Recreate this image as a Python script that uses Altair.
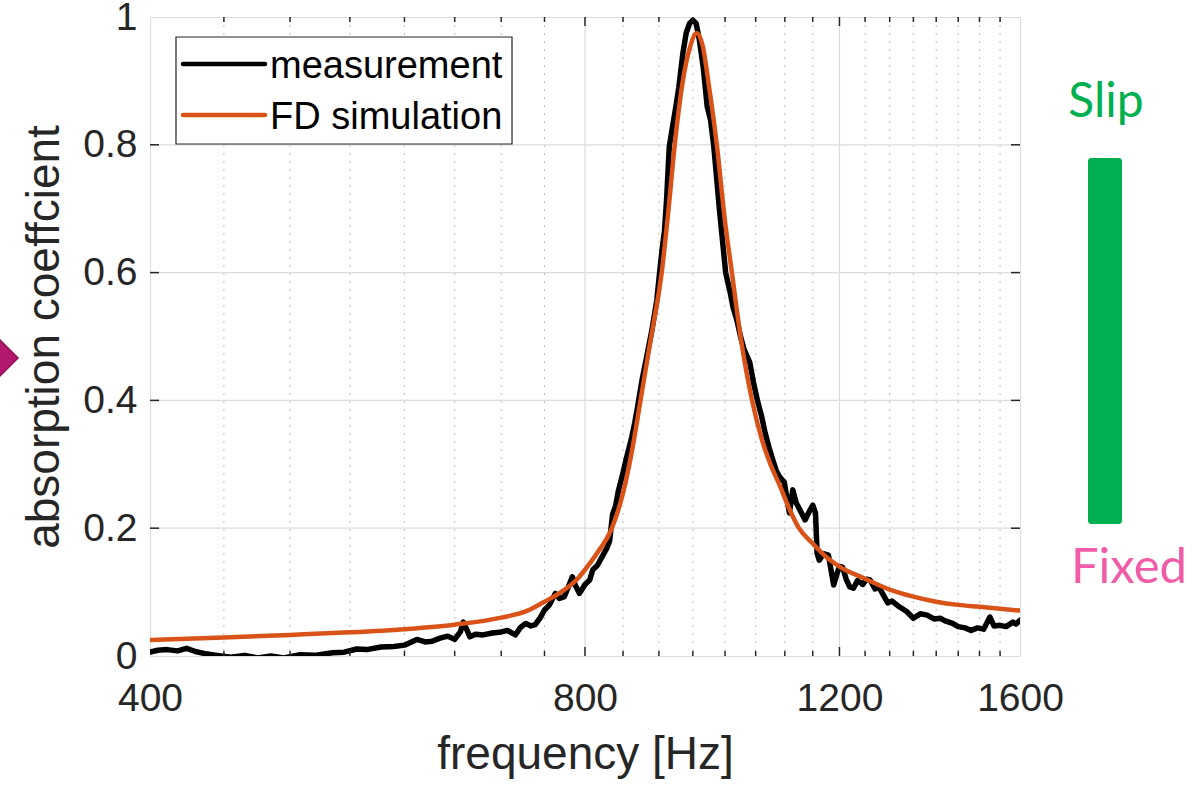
import altair as alt
import pandas as pd

# ---------------- data ----------------
meas_freq = [400, 405, 411, 418, 424, 430, 436, 445, 455, 465, 475, 485, 495, 508, 520, 535, 545,
             556, 565, 578, 590, 600, 612, 620, 627, 635, 643, 650, 656, 659, 663, 666, 672, 680,
             690, 698, 707, 716, 722, 728, 734, 739, 745, 750, 756, 763, 768, 774, 779, 784, 788,
             793, 800, 806, 810, 816, 822, 828, 832, 836, 840, 844, 849, 854, 858, 861, 866, 870,
             874, 877, 883, 890, 897, 901, 905, 908, 911, 915, 920, 925, 929, 935, 940, 945, 950,
             955, 960, 966, 972, 977, 982, 987, 991, 996, 1001, 1008, 1013, 1019, 1025, 1031, 1040,
             1047, 1053, 1060, 1066, 1073, 1079, 1085, 1091, 1099, 1104, 1108, 1114, 1120, 1127,
             1136, 1143, 1150, 1155, 1158, 1162, 1170, 1179, 1185, 1189, 1195, 1200, 1206, 1213,
             1220, 1227, 1235, 1245, 1253, 1260, 1270, 1278, 1285, 1296, 1305, 1320, 1335, 1350,
             1365, 1380, 1395, 1409, 1420, 1437, 1450, 1466, 1480, 1495, 1510, 1525, 1535, 1550,
             1565, 1582, 1590, 1600]
meas_val = [0.006, 0.009, 0.010, 0.008, 0.012, 0.007, 0.004, 0.001, -0.002, 0.001, -0.003, 0.000,
            -0.003, 0.002, 0.001, 0.005, 0.006, 0.011, 0.010, 0.014, 0.015, 0.017, 0.026, 0.022,
            0.023, 0.028, 0.031, 0.026, 0.038, 0.053, 0.040, 0.030, 0.034, 0.033, 0.036, 0.037,
            0.040, 0.033, 0.045, 0.051, 0.047, 0.049, 0.060, 0.072, 0.080, 0.098, 0.090, 0.093,
            0.108, 0.124, 0.110, 0.098, 0.112, 0.119, 0.135, 0.142, 0.155, 0.168, 0.180, 0.222,
            0.235, 0.260, 0.282, 0.307, 0.325, 0.338, 0.365, 0.390, 0.418, 0.437, 0.470, 0.510,
            0.557, 0.600, 0.640, 0.665, 0.713, 0.797, 0.830, 0.862, 0.890, 0.943, 0.975, 0.990,
            0.995, 0.990, 0.964, 0.920, 0.860, 0.840, 0.800, 0.745, 0.700, 0.650, 0.600, 0.570,
            0.545, 0.526, 0.500, 0.479, 0.460, 0.425, 0.400, 0.375, 0.349, 0.325, 0.307, 0.290,
            0.280, 0.272, 0.245, 0.224, 0.260, 0.240, 0.228, 0.213, 0.225, 0.236, 0.224, 0.161,
            0.150, 0.160, 0.158, 0.130, 0.111, 0.128, 0.140, 0.139, 0.120, 0.108, 0.106, 0.118,
            0.112, 0.120, 0.119, 0.105, 0.108, 0.098, 0.083, 0.086, 0.077, 0.070, 0.059, 0.066,
            0.064, 0.058, 0.059, 0.055, 0.051, 0.046, 0.044, 0.040, 0.044, 0.042, 0.061, 0.047,
            0.048, 0.046, 0.053, 0.050, 0.056]

sim_freq = [400, 450, 500, 550, 600, 650, 700, 730, 750, 770, 790, 800, 815, 835, 850, 862, 874,
            889, 904, 914, 923, 935, 945, 956, 965, 975, 987, 1000, 1011, 1025, 1044, 1060, 1075,
            1091, 1108, 1125, 1150, 1175, 1200, 1250, 1300, 1350, 1400, 1450, 1500, 1550, 1600]
sim_val = [0.025, 0.029, 0.033, 0.037, 0.042, 0.049, 0.060, 0.071, 0.085, 0.100, 0.120, 0.135,
           0.160, 0.200, 0.255, 0.320, 0.400, 0.500, 0.600, 0.700, 0.800, 0.900, 0.950, 0.975,
           0.955, 0.890, 0.800, 0.680, 0.600, 0.500, 0.400, 0.340, 0.300, 0.267, 0.230, 0.200,
           0.176, 0.155, 0.140, 0.121, 0.104, 0.093, 0.085, 0.080, 0.077, 0.074, 0.071]

x_major = [400, 800, 1200, 1600]
x_minor = [450, 500, 550, 600, 650, 700, 750, 850, 900, 950, 1000, 1050, 1100, 1150,
           1250, 1300, 1350, 1400, 1450, 1500, 1550]
y_ticks = [0, 0.2, 0.4, 0.6, 0.8, 1]
y_inner = [0.2, 0.4, 0.6, 0.8]

series = ["measurement", "FD simulation"]
series_colors = ["#000000", "#D95319"]
side_labels = ["Slip", "Fixed"]
side_colors = ["#00B050", "#F05CA8"]

# ---------------- layout ----------------
W, H = 870, 639
FONT = "Liberation Sans"
TXT = "#262626"

xs = alt.Scale(type="log", domain=[400, 1600], nice=False)
ys = alt.Scale(domain=[0, 1], nice=False)

AX_X = alt.Axis(
    values=x_major, format="d", title="frequency [Hz]", grid=False, ticks=False, domain=False,
    labelFontSize=39, labelPadding=23, labelFlush=False, labelOverlap=False,
    labelColor=TXT, labelFont=FONT, titleFont=FONT, titleFontSize=46,
    titleFontWeight="normal", titleColor=TXT, titlePadding=14)
AX_Y = alt.Axis(
    values=y_ticks, format="~g", title="absorption coeffcient", grid=False, ticks=False,
    domain=False, labelFontSize=39, labelPadding=13, labelFlush=False, labelOverlap=False,
    labelColor=TXT, labelFont=FONT, titleFont=FONT, titleFontSize=46,
    titleFontWeight="normal", titleColor=TXT, titlePadding=14)

meas_df = pd.DataFrame({"f": meas_freq, "v": meas_val})
sim_df = pd.DataFrame({"f": sim_freq, "v": sim_val})
minor_df = pd.DataFrame({"f": x_minor})
major_inner_df = pd.DataFrame({"f": [800, 1200]})
yin_df = pd.DataFrame({"v": y_inner})
one = pd.DataFrame({"k": [0]})

X = lambda: alt.X("f:Q", scale=xs, axis=AX_X)
Y = lambda: alt.Y("v:Q", scale=ys, axis=AX_Y)

grid_minor = alt.Chart(minor_df).mark_rule(color="#bdbdbd", strokeWidth=1, strokeDash=[2, 6]).encode(
    x=X(), y=alt.value(0), y2=alt.value(H))
grid_xmaj = alt.Chart(major_inner_df).mark_rule(color="#dcdcdc", strokeWidth=1.2).encode(
    x=X(), y=alt.value(0), y2=alt.value(H))
grid_y = alt.Chart(yin_df).mark_rule(color="#dcdcdc", strokeWidth=1.2).encode(
    y=Y(), x=alt.value(0), x2=alt.value(W))

meas_line = alt.Chart(meas_df).mark_line(
    color=series_colors[0], strokeWidth=5.5, clip=True, strokeJoin="round", strokeCap="round"
).encode(x=X(), y=Y())
sim_line = alt.Chart(sim_df).mark_line(
    color=series_colors[1], strokeWidth=4.5, clip=True, strokeJoin="round", strokeCap="round",
    interpolate="monotone"
).encode(x=X(), y=Y())

# inward ticks
tick_layers = []
tick_layers.append(alt.Chart(minor_df).mark_rule(color=TXT, strokeWidth=1.5).encode(
    x=X(), y=alt.value(H), y2=alt.value(H - 5)))
tick_layers.append(alt.Chart(minor_df).mark_rule(color=TXT, strokeWidth=1.5).encode(
    x=X(), y=alt.value(0), y2=alt.value(5)))
tick_layers.append(alt.Chart(major_inner_df).mark_rule(color=TXT, strokeWidth=1.5).encode(
    x=X(), y=alt.value(H), y2=alt.value(H - 9)))
tick_layers.append(alt.Chart(major_inner_df).mark_rule(color=TXT, strokeWidth=1.5).encode(
    x=X(), y=alt.value(0), y2=alt.value(9)))
tick_layers.append(alt.Chart(yin_df).mark_rule(color=TXT, strokeWidth=1.5).encode(
    y=Y(), x=alt.value(0), x2=alt.value(9)))
tick_layers.append(alt.Chart(yin_df).mark_rule(color=TXT, strokeWidth=1.5).encode(
    y=Y(), x=alt.value(W), x2=alt.value(W - 9)))

# legend
legend_layers = [alt.Chart(one).mark_rect(fill="white", stroke=TXT, strokeWidth=1.2).encode(
    x=alt.value(26), x2=alt.value(362), y=alt.value(20), y2=alt.value(127))]
for i, (name, col) in enumerate(zip(series, series_colors)):
    yy = 47 + 51 * i
    d = pd.DataFrame({"series": [name]})
    legend_layers.append(alt.Chart(d).mark_rule(color=col, strokeWidth=4.5, strokeCap="round").encode(
        x=alt.value(33), x2=alt.value(115), y=alt.value(yy)))
    legend_layers.append(alt.Chart(d).mark_text(
        align="left", baseline="alphabetic", font=FONT, fontSize=38, color="#000000"
    ).encode(x=alt.value(120), y=alt.value(yy + 14), text="series:N"))

# outside annotations
side_df = pd.DataFrame({"label": side_labels, "color": side_colors})
slip_txt = alt.Chart(side_df.iloc[[0]]).mark_text(
    align="center", baseline="alphabetic", font="Lato", fontSize=48, color=side_colors[0]
).encode(x=alt.value(956), y=alt.value(100), text="label:N")
fixed_txt = alt.Chart(side_df.iloc[[1]]).mark_text(
    align="left", baseline="alphabetic", font="Lato", fontSize=49, color=side_colors[1]
).encode(x=alt.value(921), y=alt.value(566), text="label:N")
bar = alt.Chart(side_df.iloc[[0]]).mark_rect(color=side_colors[0], cornerRadius=3).encode(
    x=alt.value(938), x2=alt.value(972), y=alt.value(141), y2=alt.value(507))
diamond = alt.Chart(one).mark_point(
    shape="diamond", filled=True, fill="#B3186F", stroke="#8E0F58", strokeWidth=1.5,
    size=1300, opacity=1
).encode(x=alt.value(-150), y=alt.value(341))

chart = alt.layer(
    grid_minor, grid_xmaj, grid_y, meas_line, sim_line, *tick_layers, *legend_layers,
    slip_txt, fixed_txt, bar, diamond
).properties(
    width=W, height=H,
    padding={"left": 150, "top": 17, "right": 178, "bottom": 130},
    autosize=alt.AutoSizeParams(type="none"),
).configure_view(stroke=TXT, strokeWidth=1.5).configure(background="white")

chart.save("out.html", embed_options={"renderer": "svg", "actions": False})
